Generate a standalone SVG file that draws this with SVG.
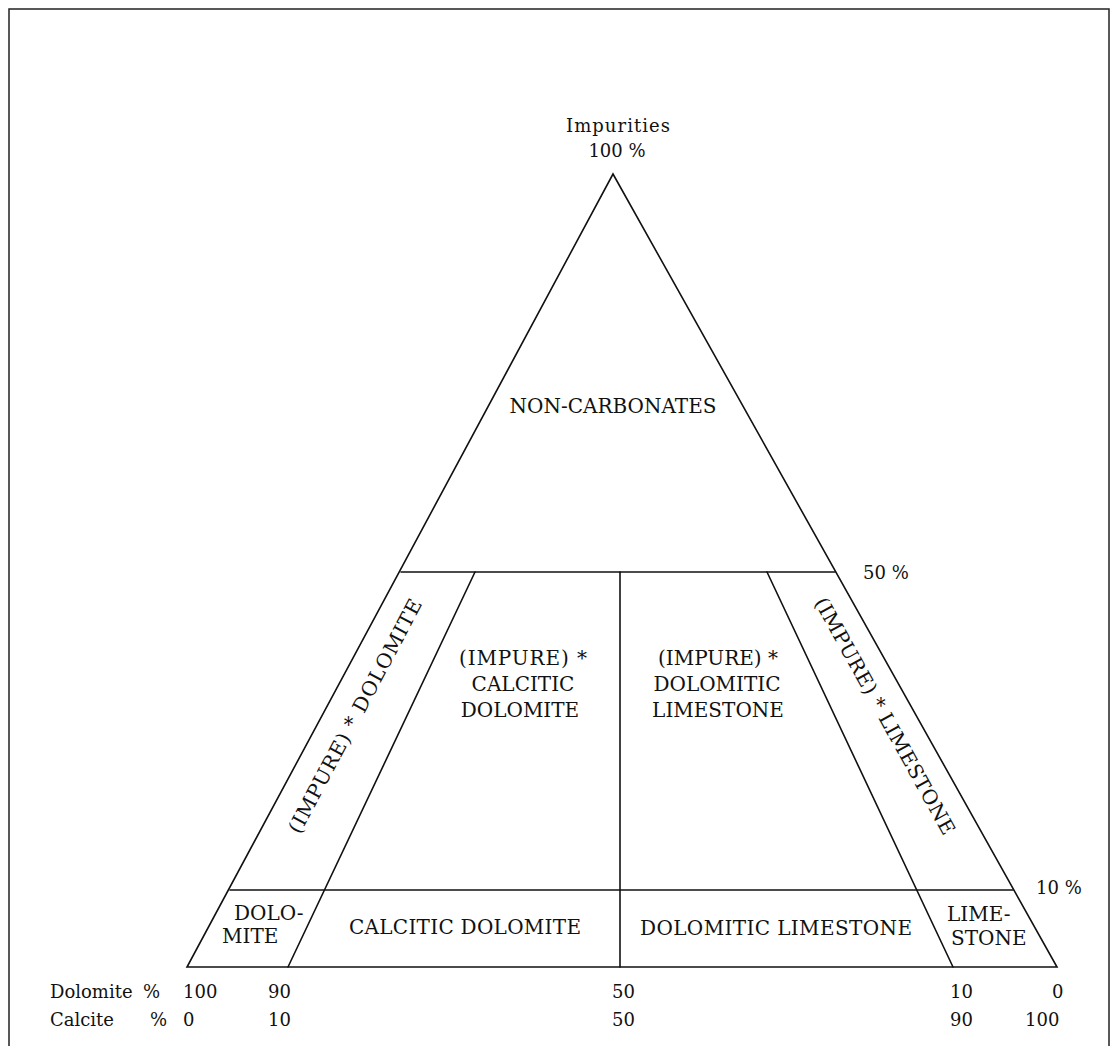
<svg xmlns="http://www.w3.org/2000/svg" width="1119" height="1046" viewBox="0 0 1119 1046">
<style>
.ln{stroke:#111;stroke-width:1.6;fill:none;stroke-linecap:round}
text{font-family:"DejaVu Serif","Liberation Serif",serif;fill:#111}
.big{font-size:20px}
.sm{font-size:18px}
.c{text-anchor:middle}
</style>
<rect x="0" y="0" width="1119" height="1046" fill="#fff"/>
<rect x="9" y="9" width="1100" height="1100" fill="none" stroke="#222" stroke-width="1.5"/>
<g id="connectors">
<polygon class="ln" points="613,174 1057,967 187,967"/>
<line class="ln" x1="401" y1="572" x2="835" y2="572"/>
<line class="ln" x1="230" y1="890" x2="1013" y2="890"/>
<line class="ln" x1="288" y1="967" x2="475" y2="572"/>
<line class="ln" x1="953" y1="967" x2="767" y2="572"/>
<line class="ln" x1="620" y1="572" x2="620" y2="967"/>
</g>
<g id="apex-label">
<text class="sm c" x="618" y="132" textLength="104">Impurities</text>
<text class="sm c" x="617" y="157">100 %</text>
</g>
<g id="non-carbonates"><text class="big c" x="613" y="413">NON-CARBONATES</text></g>
<g id="pct50"><text class="sm" x="863" y="579">50 %</text></g>
<g id="pct10"><text class="sm" x="1036" y="894">10 %</text></g>
<g id="impure-dolomite"><text class="big c" transform="translate(355,716) rotate(-62)" dy="7" textLength="262">(IMPURE) * DOLOMITE</text></g>
<g id="impure-limestone"><text class="big c" transform="translate(885,716) rotate(61)" dy="7" textLength="268">(IMPURE) * LIMESTONE</text></g>
<g id="impure-calcitic-dolomite">
<text class="big c" x="523" y="665" textLength="128">(IMPURE) *</text>
<text class="big c" x="523" y="691">CALCITIC</text>
<text class="big c" x="520" y="717">DOLOMITE</text>
</g>
<g id="impure-dolomitic-limestone">
<text class="big c" x="718" y="665">(IMPURE) *</text>
<text class="big c" x="717" y="691">DOLOMITIC</text>
<text class="big c" x="718" y="717">LIMESTONE</text>
</g>
<g id="dolomite"><text class="big" x="234" y="920">DOLO-</text><text class="big" x="222" y="943">MITE</text></g>
<g id="calcitic-dolomite"><text class="big c" x="465" y="934" textLength="232">CALCITIC DOLOMITE</text></g>
<g id="dolomitic-limestone"><text class="big c" x="776" y="935" textLength="272">DOLOMITIC LIMESTONE</text></g>
<g id="limestone"><text class="big" x="947" y="921">LIME-</text><text class="big" x="951" y="945">STONE</text></g>
<g id="axis-labels">
<text class="sm" x="50" y="998">Dolomite</text>
<text class="sm" x="143" y="998">%</text>
<text class="sm" x="183" y="998">100</text>
<text class="sm" x="268" y="998">90</text>
<text class="sm" x="612" y="998">50</text>
<text class="sm" x="950" y="998">10</text>
<text class="sm" x="1052" y="998">0</text>
<text class="sm" x="50" y="1026">Calcite</text>
<text class="sm" x="150" y="1026">%</text>
<text class="sm" x="183" y="1026">0</text>
<text class="sm" x="268" y="1026">10</text>
<text class="sm" x="612" y="1026">50</text>
<text class="sm" x="950" y="1026">90</text>
<text class="sm" x="1025" y="1026">100</text>
</g>
</svg>
